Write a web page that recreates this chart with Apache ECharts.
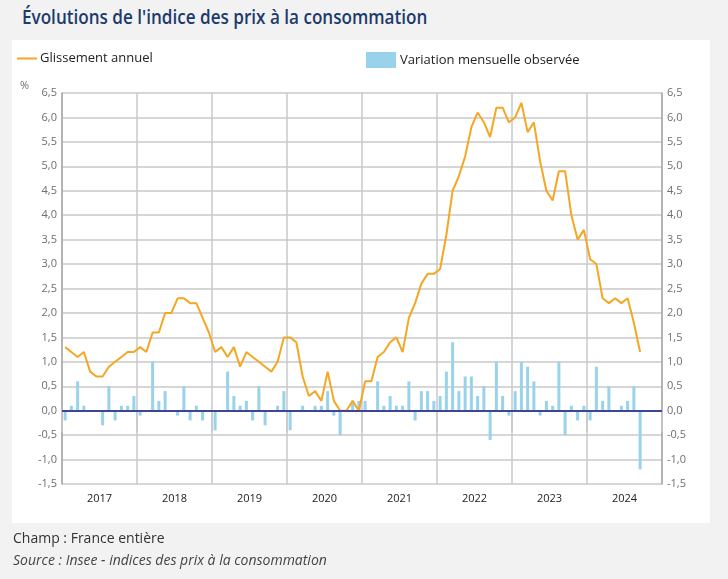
<!DOCTYPE html>
<html>
<head>
<meta charset="utf-8">
<script src="https://cdn.jsdelivr.net/npm/echarts@6/dist/echarts.min.js"></script>
<style>
  html, body { margin: 0; padding: 0; background: #f2f2f2; }
  #wrap { position: relative; width: 728px; height: 579px; }
  #panel { position: absolute; left: 12px; top: 40px; width: 698px; height: 483px; background: #ffffff; }
  #chart { position: absolute; left: 0; top: 0; width: 728px; height: 579px; }
  #title { position: absolute; left: 22px; top: 4px; white-space: nowrap; font-family: "Open Sans", sans-serif;
           font-weight: 600; font-size: 19px; color: #1d3a6c; transform: scaleX(0.9); transform-origin: left top; }
</style>
</head>
<body>
<div id="wrap">
  <div id="panel"></div>
  <div id="title">Évolutions de l'indice des prix à la consommation</div>
  <div id="chart"></div>
</div>
<script>
// ---- Data ----
const years = ['2017', '2018', '2019', '2020', '2021', '2022', '2023', '2024'];
const monthNames = ['01','02','03','04','05','06','07','08','09','10','11','12'];

// Glissement annuel (%), Jan 2017 -> Sep 2024
const annual2017 = [1.3, 1.2, 1.1, 1.2, 0.8, 0.7, 0.7, 0.9, 1.0, 1.1, 1.2, 1.2];
const annual2018 = [1.3, 1.2, 1.6, 1.6, 2.0, 2.0, 2.3, 2.3, 2.2, 2.2, 1.9, 1.6];
const annual2019 = [1.2, 1.3, 1.1, 1.3, 0.9, 1.2, 1.1, 1.0, 0.9, 0.8, 1.0, 1.5];
const annual2020 = [1.5, 1.4, 0.7, 0.3, 0.4, 0.2, 0.8, 0.2, 0.0, 0.0, 0.2, 0.0];
const annual2021 = [0.6, 0.6, 1.1, 1.2, 1.4, 1.5, 1.2, 1.9, 2.2, 2.6, 2.8, 2.8];
const annual2022 = [2.9, 3.6, 4.5, 4.8, 5.2, 5.8, 6.1, 5.9, 5.6, 6.2, 6.2, 5.9];
const annual2023 = [6.0, 6.3, 5.7, 5.9, 5.1, 4.5, 4.3, 4.9, 4.9, 4.0, 3.5, 3.7];
const annual2024 = [3.1, 3.0, 2.3, 2.2, 2.3, 2.2, 2.3, 1.8, 1.2];

// Variation mensuelle observée (%)
const monthly2017 = [-0.2, 0.1, 0.6, 0.1, 0.0, 0.0, -0.3, 0.5, -0.2, 0.1, 0.1, 0.3];
const monthly2018 = [-0.1, 0.0, 1.0, 0.2, 0.4, 0.0, -0.1, 0.5, -0.2, 0.1, -0.2, 0.0];
const monthly2019 = [-0.4, 0.0, 0.8, 0.3, 0.1, 0.2, -0.2, 0.5, -0.3, 0.0, 0.1, 0.4];
const monthly2020 = [-0.4, 0.0, 0.1, 0.0, 0.1, 0.1, 0.4, -0.1, -0.5, 0.0, 0.2, 0.2];
const monthly2021 = [0.2, 0.0, 0.6, 0.1, 0.3, 0.1, 0.1, 0.6, -0.2, 0.4, 0.4, 0.2];
const monthly2022 = [0.3, 0.8, 1.4, 0.4, 0.7, 0.7, 0.3, 0.5, -0.6, 1.0, 0.3, -0.1];
const monthly2023 = [0.4, 1.0, 0.9, 0.6, -0.1, 0.2, 0.1, 1.0, -0.5, 0.1, -0.2, 0.1];
const monthly2024 = [-0.2, 0.9, 0.2, 0.5, 0.0, 0.1, 0.2, 0.5, -1.2];

const yTicksMin = -1.5, yTicksMax = 6.5, yTickStep = 0.5;

// ---- Build ----
const months = [];
years.forEach(y => monthNames.forEach(m => months.push(y + '-' + m)));
const annual = [].concat(annual2017, annual2018, annual2019, annual2020, annual2021, annual2022, annual2023, annual2024);
const monthly = [].concat(monthly2017, monthly2018, monthly2019, monthly2020, monthly2021, monthly2022, monthly2023, monthly2024);

const fmt = v => v.toFixed(1).replace('.', ',');
const FONT = '"Open Sans", "DejaVu Sans", sans-serif';

const chart = echarts.init(document.getElementById('chart'), null, { renderer: 'canvas' });
chart.setOption({
  backgroundColor: 'transparent',
  animation: false,
  textStyle: { fontFamily: FONT },
  legend: [
    {
      data: [{ name: 'Glissement annuel', icon: 'rect' }], left: 12, top: 47, itemWidth: 20, itemHeight: 2,
      textStyle: { fontFamily: FONT, fontSize: 13, color: '#222', padding: [0, 0, 0, -2] }
    },
    {
      data: [{ name: 'Variation mensuelle observée', icon: 'rect' }], left: 361, top: 47, itemWidth: 30, itemHeight: 16,
      textStyle: { fontFamily: FONT, fontSize: 13, color: '#222', padding: [0, 0, 0, -1] }
    }
  ],
  grid: { left: 62, right: 66, top: 93, bottom: 95, containLabel: false },
  xAxis: [
    { type: 'category', data: months, show: false, boundaryGap: true },
    {
      type: 'category', data: years, position: 'bottom', boundaryGap: true,
      axisLine: { show: true, lineStyle: { color: '#c8c8c8', width: 1.5 } },
      axisTick: { show: true, length: 21, lineStyle: { color: '#c8c8c8', width: 1.5 } },
      axisLabel: { color: '#222', fontSize: 11, margin: 9, fontFamily: FONT },
      splitLine: { show: true, lineStyle: { color: '#c8c8c8', width: 1.5 } }
    }
  ],
  yAxis: [
    {
      type: 'value', min: yTicksMin, max: yTicksMax, interval: yTickStep, position: 'left',
      axisLine: { show: true, lineStyle: { color: '#a8a8a8', width: 1.5 } },
      axisTick: { show: false },
      axisLabel: { color: '#6e6e6e', fontSize: 11, margin: 5, formatter: fmt },
      splitLine: { show: true, lineStyle: { color: '#c8c8c8', width: 1.5 } }
    },
    {
      type: 'value', min: yTicksMin, max: yTicksMax, interval: yTickStep, position: 'right',
      axisLine: { show: true, lineStyle: { color: '#a8a8a8', width: 1.5 } },
      axisTick: { show: false },
      axisLabel: { color: '#6e6e6e', fontSize: 11, margin: 5, formatter: fmt },
      splitLine: { show: false }
    }
  ],
  graphic: [
    { type: 'text', left: 20, top: 80, style: { text: '%', fill: '#6e6e6e', font: '11px ' + FONT } },
    { type: 'text', left: 13, top: 532, style: { text: 'Champ : France entière', fill: '#333', font: '14px ' + FONT } },
    { type: 'text', left: 13, top: 554, style: { text: 'Source : Insee - indices des prix à la consommation', fill: '#444', font: 'italic 14px ' + FONT } }
  ],
  series: [
    {
      name: 'Variation mensuelle observée', type: 'bar', xAxisIndex: 0, yAxisIndex: 0,
      data: monthly, barWidth: 3, itemStyle: { color: '#98d2eb' },
      markLine: {
        silent: true, symbol: 'none', label: { show: false },
        lineStyle: { color: '#3f4596', width: 2, type: 'solid' },
        data: [{ yAxis: 0 }]
      },
      z: 2
    },
    {
      name: 'Glissement annuel', type: 'line', xAxisIndex: 0, yAxisIndex: 0,
      data: annual, symbol: 'none', lineStyle: { color: '#f5a623', width: 2 }, itemStyle: { color: '#f5a623' },
      z: 3
    }
  ]
});
</script>
</body>
</html>
